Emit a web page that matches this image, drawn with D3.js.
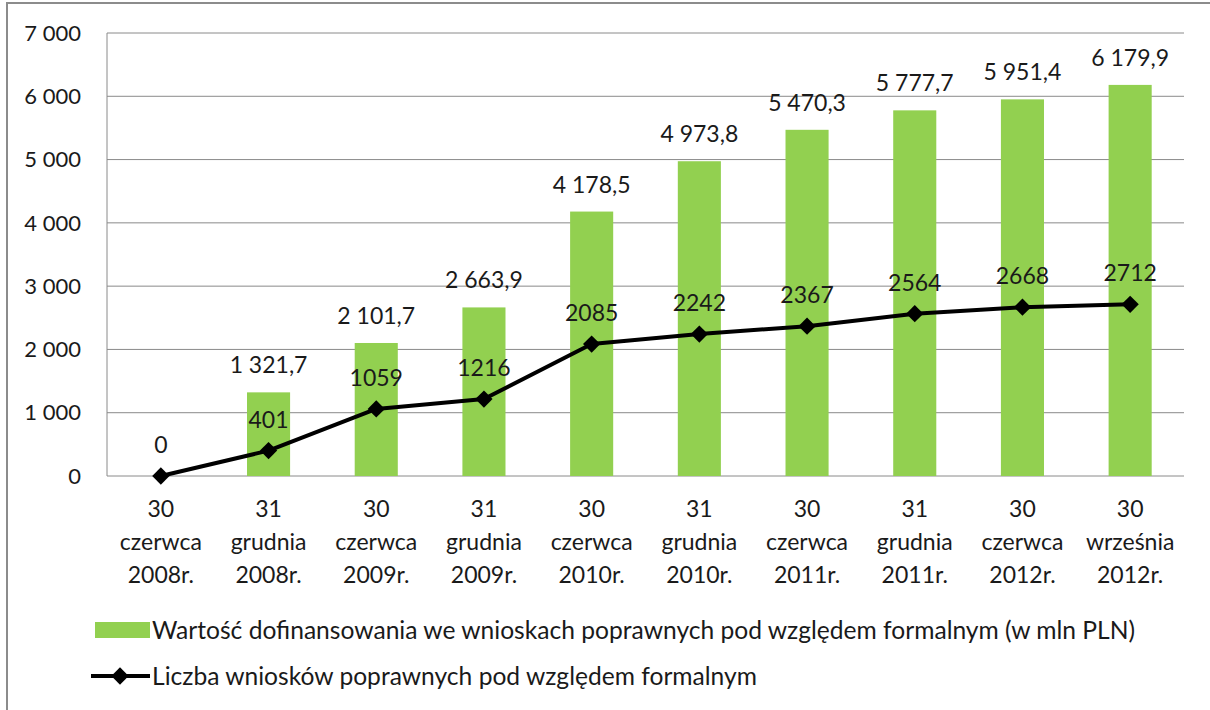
<!DOCTYPE html>
<html>
<head>
<meta charset="utf-8">
<script src="https://cdn.jsdelivr.net/npm/d3@7"></script>
<style>
  body { margin: 0; background: #fff; }
  svg { display: block; font-family: Lato, "Open Sans", sans-serif; }
</style>
</head>
<body>
<div id="chart"></div>
<script>
// Categories (x axis, three-line labels)
const dates = [
    ["30", "czerwca", "2008r."],
    ["31", "grudnia", "2008r."],
    ["30", "czerwca", "2009r."],
    ["31", "grudnia", "2009r."],
    ["30", "czerwca", "2010r."],
    ["31", "grudnia", "2010r."],
    ["30", "czerwca", "2011r."],
    ["31", "grudnia", "2011r."],
    ["30", "czerwca", "2012r."],
    ["30", "września", "2012r."]
];
// Bar values: funding in mln PLN
const funding = [0, 1321.7, 2101.7, 2663.9, 4178.5, 4973.8, 5470.3, 5777.7, 5951.4, 6179.9];
const fundingLabels = ["", "1 321,7", "2 101,7", "2 663,9", "4 178,5", "4 973,8", "5 470,3", "5 777,7", "5 951,4", "6 179,9"];
// Line values: number of applications
const applications = [0, 401, 1059, 1216, 2085, 2242, 2367, 2564, 2668, 2712];
const yTicks = [0, 1000, 2000, 3000, 4000, 5000, 6000, 7000];
const legendNames = [
    "Wartość dofinansowania we wnioskach poprawnych pod względem formalnym (w mln PLN)",
    "Liczba wniosków poprawnych pod względem formalnym"
];

const width = 1210, height = 710;
const plot = { left: 107, right: 1184, top: 33, bottom: 476 };
const green = "#92d050";
const ink = "#1a1a1a";

const svg = d3.select("#chart").append("svg")
    .attr("width", width)
    .attr("height", height);

// outer frame
svg.append("rect")
    .attr("x", 7).attr("y", 3)
    .attr("width", width + 10).attr("height", height + 10)
    .attr("fill", "none")
    .attr("stroke", "#8c8c8c")
    .attr("stroke-width", 2);

const x = d3.scaleBand()
    .domain(d3.range(dates.length))
    .range([plot.left, plot.right])
    .paddingInner(0.6)
    .paddingOuter(0.3);

const y = d3.scaleLinear()
    .domain([0, 7000])
    .range([plot.bottom, plot.top]);

// gridlines
svg.append("g")
    .selectAll("line")
    .data(yTicks)
    .join("line")
    .attr("x1", plot.left).attr("x2", plot.right)
    .attr("y1", d => y(d)).attr("y2", d => y(d))
    .attr("stroke", "#8a8a8a")
    .attr("stroke-width", 1);

// y axis line
svg.append("line")
    .attr("x1", plot.left).attr("x2", plot.left)
    .attr("y1", plot.top).attr("y2", plot.bottom)
    .attr("stroke", "#8a8a8a");

// y tick labels
svg.append("g")
    .selectAll("text")
    .data(yTicks)
    .join("text")
    .attr("x", 81)
    .attr("y", d => y(d))
    .attr("dy", "0.35em")
    .attr("text-anchor", "end")
    .attr("font-size", 22)
    .attr("fill", ink)
    .text(d => d === 0 ? "0" : d3.format(",")(d).replace(",", " "));

// bars
svg.append("g")
    .selectAll("rect")
    .data(funding)
    .join("rect")
    .attr("x", (d, i) => x(i))
    .attr("y", d => y(d))
    .attr("width", x.bandwidth())
    .attr("height", d => y(0) - y(d))
    .attr("fill", green);

// bar labels
svg.append("g")
    .selectAll("text")
    .data(funding)
    .join("text")
    .attr("x", (d, i) => x(i) + x.bandwidth() / 2)
    .attr("y", d => y(d) - 19)
    .attr("text-anchor", "middle")
    .attr("font-size", 23)
    .attr("fill", ink)
    .text((d, i) => fundingLabels[i]);

// line
const cx = i => x(i) + x.bandwidth() / 2;
svg.append("path")
    .datum(applications)
    .attr("d", d3.line().x((d, i) => cx(i)).y(d => y(d)))
    .attr("fill", "none")
    .attr("stroke", "#000")
    .attr("stroke-width", 4)
    .attr("stroke-linejoin", "round");

const diamond = d3.symbol().type(d3.symbolDiamond2).size(190);
svg.append("g")
    .selectAll("path")
    .data(applications)
    .join("path")
    .attr("d", diamond)
    .attr("transform", (d, i) => `translate(${cx(i)},${y(d)})`)
    .attr("fill", "#000");

// line labels
svg.append("g")
    .selectAll("text")
    .data(applications)
    .join("text")
    .attr("x", (d, i) => cx(i))
    .attr("y", d => y(d) - 23)
    .attr("text-anchor", "middle")
    .attr("font-size", 23)
    .attr("fill", ink)
    .text(d => d);

// x labels
const xl = svg.append("g")
    .selectAll("text")
    .data(dates)
    .join("text")
    .attr("text-anchor", "middle")
    .attr("font-size", 23)
    .attr("fill", ink);
xl.each(function(d, i) {
    const t = d3.select(this);
    d.forEach((s, k) => {
        t.append("tspan")
            .attr("x", cx(i))
            .attr("y", 517 + k * 33)
            .text(s);
    });
});

// legend
const lg = svg.append("g");
lg.append("rect")
    .attr("x", 95).attr("y", 622)
    .attr("width", 55).attr("height", 16)
    .attr("fill", green);
lg.append("text")
    .attr("x", 152).attr("y", 630)
    .attr("dy", "0.35em")
    .attr("font-size", 24.6)
    .attr("fill", ink)
    .text(legendNames[0]);
lg.append("line")
    .attr("x1", 91).attr("x2", 150)
    .attr("y1", 676).attr("y2", 676)
    .attr("stroke", "#000")
    .attr("stroke-width", 4);
lg.append("path")
    .attr("d", diamond)
    .attr("transform", "translate(120,676)")
    .attr("fill", "#000");
lg.append("text")
    .attr("x", 152).attr("y", 676)
    .attr("dy", "0.35em")
    .attr("font-size", 24.6)
    .attr("fill", ink)
    .text(legendNames[1]);
</script>
</body>
</html>
